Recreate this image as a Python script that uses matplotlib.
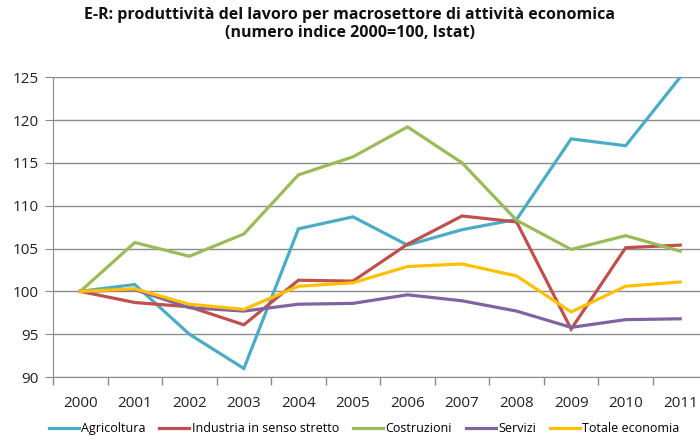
import numpy as np
import matplotlib.pyplot as plt

plt.rcParams['font.family'] = ['Open Sans', 'DejaVu Sans']

anni = ['2000', '2001', '2002', '2003', '2004', '2005', '2006', '2007', '2008', '2009', '2010', '2011']
agricoltura = [100, 100.8, 95.0, 91.0, 107.3, 108.7, 105.4, 107.2, 108.4, 117.8, 117.0, 125.0]
industria = [100, 98.7, 98.2, 96.1, 101.3, 101.2, 105.5, 108.8, 108.1, 95.6, 105.1, 105.4]
costruzioni = [100, 105.7, 104.1, 106.7, 113.6, 115.7, 119.2, 115.0, 108.3, 104.9, 106.5, 104.7]
servizi = [100, 100.2, 98.1, 97.7, 98.5, 98.6, 99.6, 98.9, 97.7, 95.8, 96.7, 96.8]
totale = [100, 100.3, 98.5, 97.9, 100.6, 101.0, 102.9, 103.2, 101.8, 97.6, 100.6, 101.1]

serie = [
    ('Agricoltura', agricoltura, '#4BACC6'),
    ('Industria in senso stretto', industria, '#C0504D'),
    ('Costruzioni', costruzioni, '#9BBB59'),
    ('Servizi', servizi, '#8064A2'),
    ('Totale economia', totale, '#FFC000'),
]

fig = plt.figure(figsize=(7, 4.41), dpi=100)
ax = fig.add_axes([0.0757, 0.145, 0.935, 0.68])

x = np.arange(len(anni))
for nome, valori, colore in serie:
    ax.plot(x, valori, color=colore, lw=2.3, label=nome, solid_joinstyle='miter')

ax.set_ylim(90, 125)
ax.set_yticks(range(90, 126, 5))
ax.set_xlim(-0.5, len(anni) - 0.5)
ax.set_xticks(x)
ax.set_xticklabels(anni)
ax.set_xticks(np.arange(-0.5, len(anni), 1), minor=True)
ax.tick_params(axis='x', which='major', length=0, pad=14, labelsize=11)
ax.tick_params(axis='x', which='minor', length=6, color='#888888', width=1)
ax.tick_params(axis='y', length=6, color='#888888', labelsize=11, pad=4)
for t in ax.get_xticklabels() + ax.get_yticklabels():
    t.set_color('#222222')

ax.grid(axis='y', color='#8c8c8c', lw=1)
ax.set_axisbelow(True)
for s in ['top', 'right']:
    ax.spines[s].set_visible(False)
for s in ['left', 'bottom']:
    ax.spines[s].set_color('#8c8c8c')

fig.suptitle('E-R: produttività del lavoro per macrosettore di attività economica\n(numero indice 2000=100, Istat)',
             fontsize=11.5, fontweight='bold', y=0.985, x=0.5, color='#111111')

fig.legend(loc='lower center', ncol=5, bbox_to_anchor=(0.52, -0.012), frameon=False,
           fontsize=9, handlelength=2.4, handletextpad=0.2, columnspacing=1.1)

fig.savefig('out.png', dpi=100)
